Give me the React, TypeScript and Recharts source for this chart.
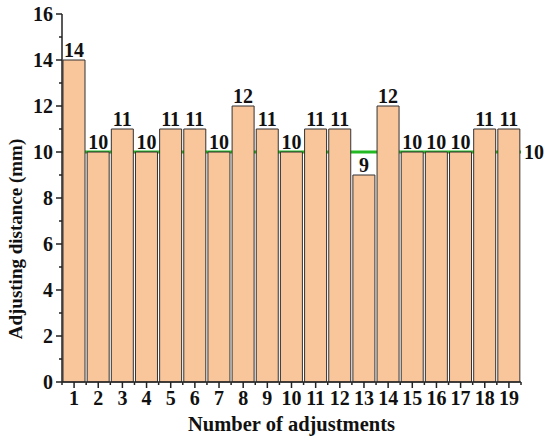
import { BarChart, Bar, XAxis, YAxis, ReferenceLine, LabelList } from 'recharts';

const runs = ['1', '2', '3', '4', '5', '6', '7', '8', '9', '10', '11', '12', '13', '14', '15', '16', '17', '18', '19'];
const distances = [14, 10, 11, 10, 11, 11, 10, 12, 11, 10, 11, 11, 9, 12, 10, 10, 10, 11, 11];
const yTicks = [0, 1, 2, 3, 4, 5, 6, 7, 8, 9, 10, 11, 12, 13, 14, 15, 16];
const targetDistance = 10;

const FONT = "Liberation Serif, DejaVu Serif, serif";
const W = 550;
const H = 445;
const MARGIN = { top: 14, right: 29, bottom: 3, left: 22 };
const Y_AXIS_W = 40;
const X_AXIS_H = 60;
const BAND = (W - MARGIN.left - MARGIN.right - Y_AXIS_W) / runs.length;

const textProps = { fontFamily: FONT, fontWeight: 'bold', fill: '#111' };

const data = runs.map((run, i) => ({ run, distance: distances[i] }));

const YTick = ({ x, y, payload }: any) => {
  const major = payload.value % 2 === 0;
  return (
    <g>
      <line x1={x} x2={x - (major ? 6 : 3)} y1={y} y2={y} stroke="#222" strokeWidth={1.5} />
      {major && (
        <text x={x - 9} y={y} textAnchor="end" dominantBaseline="central" fontSize={20} {...textProps}>
          {payload.value}
        </text>
      )}
    </g>
  );
};

const XTick = ({ x, y, payload, index }: any) => {
  const last = index === runs.length - 1;
  return (
    <g>
      <line x1={x} x2={x} y1={y} y2={y + 6} stroke="#222" strokeWidth={1.5} />
      <line x1={x - BAND / 2} x2={x - BAND / 2} y1={y} y2={y + 3} stroke="#222" strokeWidth={1.5} />
      {last && <line x1={x + BAND / 2} x2={x + BAND / 2} y1={y} y2={y + 3} stroke="#222" strokeWidth={1.5} />}
      <text x={x} y={y + 23} textAnchor="middle" fontSize={20} {...textProps}>
        {payload.value}
      </text>
    </g>
  );
};

// the y title sits lower than the plot centre in the original
const YLabel = () => {
  const cx = 15;
  const cy = 239;
  return (
    <text
      x={cx}
      y={cy}
      transform={`rotate(-90, ${cx}, ${cy})`}
      textAnchor="middle"
      dominantBaseline="central"
      fontSize={19}
      {...textProps}
    >
      Adjusting distance (mm)
    </text>
  );
};

const XLabel = ({ viewBox }: any) => {
  const cx = viewBox.x + viewBox.width / 2;
  return (
    <text x={cx} y={viewBox.y + 49} textAnchor="middle" fontSize={20.5} {...textProps}>
      Number of adjustments
    </text>
  );
};

export default function App() {
  return (
    <div style={{ position: 'absolute', left: 0, top: 0, width: W, height: H, background: '#fff' }}>
      <BarChart width={W} height={H} data={data} margin={MARGIN} barSize={22}>
        <XAxis
          dataKey="run"
          interval={0}
          height={X_AXIS_H}
          tickSize={0}
          tickMargin={0}
          tickLine={false}
          tick={<XTick />}
          axisLine={{ stroke: '#222', strokeWidth: 1.5 }}
          label={<XLabel />}
        />
        <YAxis
          domain={[0, 16]}
          ticks={yTicks}
          interval={0}
          width={Y_AXIS_W}
          tickSize={0}
          tickMargin={0}
          tickLine={false}
          tick={<YTick />}
          axisLine={{ stroke: '#222', strokeWidth: 1.5 }}
          label={<YLabel />}
        />
        <ReferenceLine
          y={targetDistance}
          stroke="#22B922"
          strokeWidth={3}
          zIndex={-50}
          label={{
            value: String(targetDistance),
            position: 'right',
            offset: 3,
            fontSize: 20,
            ...textProps,
          }}
        />
        <Bar dataKey="distance" fill="#F9C59B" stroke="#333" strokeWidth={1} isAnimationActive={false}>
          <LabelList dataKey="distance" position="top" offset={3} fontSize={20} {...textProps} />
        </Bar>
      </BarChart>
    </div>
  );
}
